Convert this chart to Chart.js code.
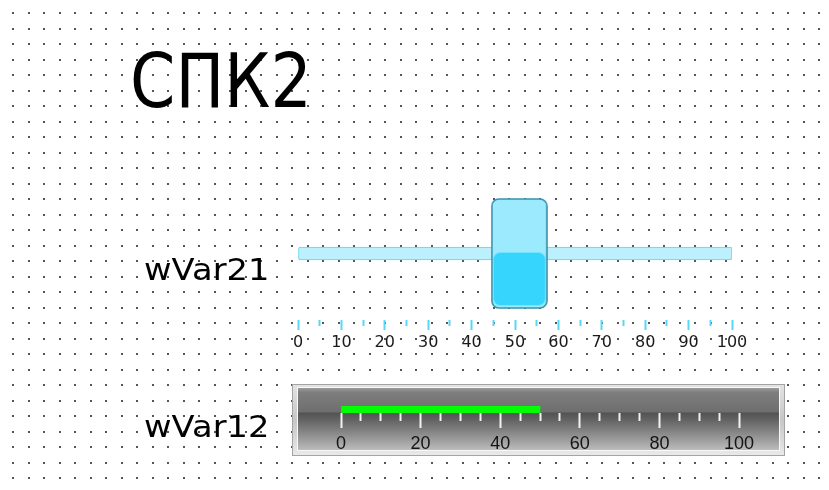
<!DOCTYPE html>
<html>
<head>
<meta charset="utf-8">
<script src="https://cdn.jsdelivr.net/npm/chart.js@4.4.1/dist/chart.umd.min.js"></script>
<style>
html, body { margin: 0; padding: 0; background: #fff; overflow: hidden; }
body { width: 829px; height: 490px; position: relative; }
#dots { position: absolute; left: 0; top: 0; }
.lbl { position: absolute; white-space: nowrap; color: #000; transform-origin: 0 0; }
#title { left: 130px; top: 44px; font: 75px "DejaVu Sans"; line-height: 75px; }
#l1 { left: 144px; top: 254px; font: 31px "DejaVu Sans"; line-height: 31px; }
#l2 { left: 144px; top: 411px; font: 31px "DejaVu Sans"; line-height: 31px; }
#slider { position: absolute; left: 250px; top: 180px; }
#gauge { position: absolute; left: 280px; top: 378px; }
</style>
</head>
<body>
<canvas id="dots" width="829" height="490"></canvas>
<div class="lbl" id="title">СПК2</div>
<div class="lbl" id="l1">wVar21</div>
<div class="lbl" id="l2">wVar12</div>
<canvas id="slider" width="530" height="180"></canvas>
<canvas id="gauge" width="520" height="90"></canvas>
<script>
// values
const sliderLabels = ['wVar21'];
const sliderValues = [51];
const sliderMin = 0;
const sliderMax = 100;
const sliderTickLabels = [0, 10, 20, 30, 40, 50, 60, 70, 80, 90, 100];

const gaugeLabels = ['wVar12'];
const gaugeValues = [50];
const gaugeMin = 0;
const gaugeMax = 100;
const gaugeTickLabels = [0, 20, 40, 60, 80, 100];

// dotted grid background
const dc = document.getElementById('dots').getContext('2d');
dc.fillStyle = '#555';
for (let y = 13.3; y < 490; y += 15.5) {
    for (let x = 13.3; x < 829; x += 15.5) {
        dc.fillRect(Math.round(x) - 1, Math.round(y) - 1, 2, 2);
    }
}

// stretch labels to the widths seen on screen
function fitWidth(id, w) {
    const el = document.getElementById(id);
    el.style.transform = 'scaleX(' + (w / el.offsetWidth) + ')';
}
fitWidth('title', 182);
fitWidth('l1', 125);
fitWidth('l2', 125);

// slider thumb image
function makeThumb() {
    const c = document.createElement('canvas');
    c.width = 57;
    c.height = 111;
    const g = c.getContext('2d');
    g.beginPath();
    g.roundRect(1, 1, 55, 109, 7);
    g.fillStyle = '#9beafd';
    g.fill();
    g.save();
    g.clip();
    g.beginPath();
    g.roundRect(2.5, 54.5, 52, 53, 7);
    g.fillStyle = '#35d5fd';
    g.fill();
    g.strokeStyle = '#78e3fc';
    g.lineWidth = 1;
    g.stroke();
    g.restore();
    g.beginPath();
    g.roundRect(1, 1, 55, 109, 7);
    g.lineWidth = 1.6;
    g.strokeStyle = '#3892ad';
    g.stroke();
    return c;
}

// Slider
new Chart(document.getElementById('slider'), {
    type: 'bar',
    data: {
        labels: sliderLabels,
        datasets: [
            {
                type: 'scatter',
                data: sliderValues.map((v, i) => ({ x: v, y: sliderLabels[i] })),
                pointStyle: makeThumb(),
                order: 0
            },
            {
                data: sliderLabels.map(() => [sliderMin, sliderMax]),
                backgroundColor: '#bdf0fd',
                borderColor: '#58d6f7',
                borderWidth: 1,
                borderRadius: 2,
                borderSkipped: false,
                barThickness: 13,
                order: 1
            }
        ]
    },
    options: {
        indexAxis: 'y',
        responsive: false,
        animation: false,
        layout: { padding: { left: 48, right: 48, top: 7, bottom: 0 } },
        plugins: { legend: { display: false }, tooltip: { enabled: false } },
        scales: {
            x: {
                min: sliderMin,
                max: sliderMax,
                position: 'bottom',
                afterFit: s => { s.height = 40; },
                afterBuildTicks: s => {
                    s.ticks = [];
                    for (let v = sliderMin; v <= sliderMax; v += 5) s.ticks.push({ value: v });
                },
                ticks: {
                    autoSkip: false,
                    maxRotation: 0,
                    padding: 3,
                    color: '#1a1a1a',
                    font: { family: 'DejaVu Sans', size: 16 },
                    callback: v => sliderTickLabels.includes(v) ? String(v) : ''
                },
                grid: {
                    drawOnChartArea: false,
                    tickLength: 10,
                    tickWidth: 2,
                    tickColor: '#58d6f6',
                    tickBorderDash: ctx => (ctx.tick && !sliderTickLabels.includes(ctx.tick.value)) ? [6, 30] : []
                },
                border: { display: false }
            },
            y: { display: false }
        }
    }
});

// Gauge frame
const gaugeFrame = {
    id: 'gaugeFrame',
    beforeDraw(chart) {
        const g = chart.ctx;
        g.save();
        let gr = g.createLinearGradient(0, 6, 0, 78);
        gr.addColorStop(0, '#e4e4e4');
        gr.addColorStop(0.5, '#c6c6c6');
        gr.addColorStop(1, '#eaeaea');
        g.fillStyle = gr;
        g.fillRect(12, 6, 493, 72);
        g.strokeStyle = '#a4a4a4';
        g.lineWidth = 1;
        g.strokeRect(12.5, 6.5, 492, 71);
        g.strokeStyle = '#f8f8f8';
        g.strokeRect(17.5, 9.5, 482, 63);
        gr = g.createLinearGradient(0, 10, 0, 72);
        gr.addColorStop(0, '#9c9c9c');
        gr.addColorStop(0.07, '#7e7e7e');
        gr.addColorStop(0.39, '#6e6e6e');
        gr.addColorStop(0.40, '#525252');
        gr.addColorStop(0.52, '#646464');
        gr.addColorStop(0.78, '#929292');
        gr.addColorStop(1, '#bcbcbc');
        g.fillStyle = gr;
        g.fillRect(18, 10, 481, 62);
        g.restore();
    }
};

// Gauge
new Chart(document.getElementById('gauge'), {
    type: 'bar',
    data: {
        labels: gaugeLabels,
        datasets: [{
            data: gaugeValues,
            backgroundColor: '#00ff00',
            borderWidth: 0,
            barThickness: 7
        }]
    },
    options: {
        indexAxis: 'y',
        responsive: false,
        animation: false,
        layout: { padding: { left: 61, right: 61, top: 28, bottom: 0 } },
        plugins: { legend: { display: false }, tooltip: { enabled: false } },
        scales: {
            x: {
                min: gaugeMin,
                max: gaugeMax,
                position: 'bottom',
                afterFit: s => { s.height = 55; },
                afterBuildTicks: s => {
                    s.ticks = [];
                    for (let v = gaugeMin; v <= gaugeMax; v += 5) s.ticks.push({ value: v });
                },
                ticks: {
                    autoSkip: false,
                    maxRotation: 0,
                    padding: 5,
                    color: '#141414',
                    font: { family: 'Liberation Sans', size: 18 },
                    callback: v => gaugeTickLabels.includes(v) ? String(v) : ''
                },
                grid: {
                    drawOnChartArea: false,
                    tickLength: 15,
                    tickWidth: 2,
                    tickColor: '#f2f2f2',
                    tickBorderDash: ctx => (ctx.tick && !gaugeTickLabels.includes(ctx.tick.value)) ? [8, 30] : []
                },
                border: { display: false }
            },
            y: { display: false }
        }
    },
    plugins: [gaugeFrame]
});
</script>
</body>
</html>
